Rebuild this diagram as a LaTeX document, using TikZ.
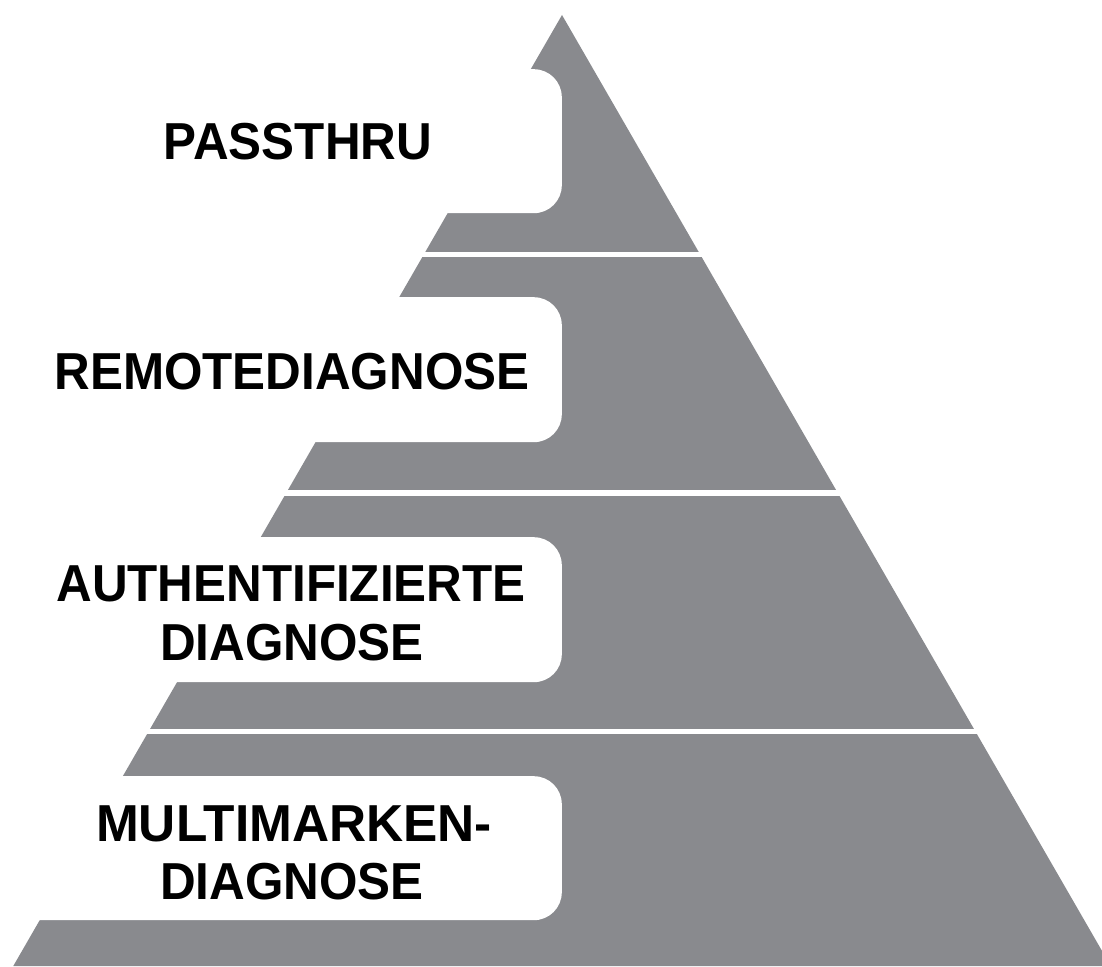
\documentclass[tikz,border=0pt]{standalone}
\usepackage{fontspec}
\newfontfamily\lblfont{Liberation Sans}[FakeStretch=0.95]
\definecolor{pyrgray}{RGB}{137,138,142}
\tikzset{
  band/.style={fill=pyrgray},
  labelbox/.style={fill=white, draw=none, rounded corners=28pt, inner sep=0pt,
    minimum width=640pt, minimum height=144pt, anchor=north east},
  lbl/.style={font=\lblfont\bfseries\fontsize{52}{58}\selectfont, text=black,
    inner sep=0pt, anchor=base}
}
\begin{document}
\begin{tikzpicture}[x=1pt,y=-1pt]
\useasboundingbox (0,0) rectangle (1102,966);
\coordinate (apex) at (562,15);
\coordinate (bl) at ({562-0.577*951},966);
\coordinate (br) at ({562+0.577*951},966);
\begin{scope}
  \clip (apex) -- (bl) -- (br) -- cycle;
  \fill[band] (0,0) rectangle (1102,252);
  \fill[band] (0,257) rectangle (1102,490);
  \fill[band] (0,495.5) rectangle (1102,729);
  \fill[band] (0,734) rectangle (1102,970);
\end{scope}
\node[labelbox] (b1) at (562,69) {};
\node[labelbox, minimum height=145pt] (b2) at (562,297) {};
\node[labelbox, minimum height=145pt] (b3) at (562,537) {};
\node[labelbox] (b4) at (562,776) {};
\node[lbl] (t1) at (298,159) {PASSTHRU};
\node[lbl] (t2) at (292,389) {REMOTEDIAGNOSE};
\node[lbl] (t3a) at (291,601) {AUTHENTIFIZIERTE};
\node[lbl] (t3b) at (292,660) {DIAGNOSE};
\node[lbl] (t4a) at (294,841) {\scalebox{1.04}[1]{MULTIMARKEN-}};
\node[lbl] (t4b) at (292,899) {DIAGNOSE};
\end{tikzpicture}
\end{document}
